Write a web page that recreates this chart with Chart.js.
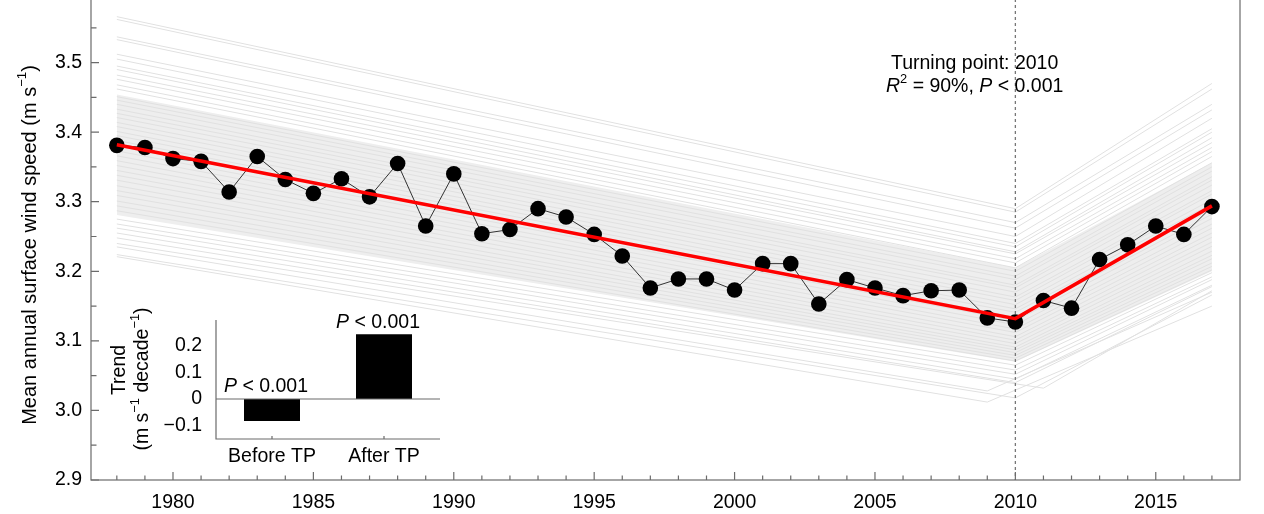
<!DOCTYPE html>
<html lang="en">
<head>
<meta charset="UTF-8">
<title>Mean annual surface wind speed</title>
<script src="https://cdn.jsdelivr.net/npm/chart.js@4.4.0/dist/chart.umd.min.js"></script>
<style>
    body { margin: 0; width: 1264px; height: 514px; overflow: hidden; background: #fff; position: relative; }
    #mainBox { position: absolute; left: 0; top: -30px; width: 1264px; height: 544px; }
    #insetBox { position: absolute; left: 100px; top: 290px; width: 350px; height: 185px; }
</style>
</head>
<body>
<div id="mainBox"><canvas id="mainChart"></canvas></div>
<div id="insetBox"><canvas id="insetChart"></canvas></div>
<script>
    // observed mean annual wind speed
    var years = [1978, 1979, 1980, 1981, 1982, 1983, 1984, 1985, 1986, 1987, 1988, 1989, 1990, 1991, 1992, 1993, 1994, 1995, 1996, 1997,
        1998, 1999, 2000, 2001, 2002, 2003, 2004, 2005, 2006, 2007, 2008, 2009, 2010, 2011, 2012, 2013, 2014, 2015, 2016, 2017]
    var windSpeed = [3.381, 3.378, 3.362, 3.358, 3.314, 3.365, 3.332, 3.312, 3.333, 3.307, 3.355, 3.265, 3.340, 3.254, 3.260, 3.290, 3.278, 3.253, 3.222, 3.176,
        3.189, 3.189, 3.173, 3.211, 3.211, 3.153, 3.188, 3.176, 3.165, 3.172, 3.173, 3.133, 3.127, 3.158, 3.147, 3.217, 3.238, 3.265, 3.253, 3.293]

    // piecewise fit
    var trendYears = [1978, 2010, 2017]
    var trendValues = [3.382, 3.132, 3.294]

    // grey ensemble fits: value at start, at turning point, at end
    var ensStart = [3.566, 3.562, 3.537, 3.533, 3.512, 3.505, 3.495, 3.490, 3.482, 3.476, 3.468, 3.462,
        3.451, 3.446, 3.440, 3.433, 3.427, 3.421, 3.414, 3.408, 3.401, 3.395, 3.388, 3.380, 3.373, 3.366,
        3.359, 3.352, 3.345, 3.338, 3.331, 3.323, 3.316, 3.309, 3.301, 3.294, 3.287,
        3.275, 3.268, 3.262, 3.255, 3.248, 3.240, 3.235, 3.224, 3.221]
    var ensTurn = [3.290, 3.285, 3.270, 3.262, 3.250, 3.240, 3.235, 3.228, 3.225, 3.218, 3.212, 3.205,
        3.200, 3.193, 3.188, 3.180, 3.176, 3.170, 3.163, 3.158, 3.152, 3.146, 3.141, 3.134, 3.129, 3.123,
        3.117, 3.112, 3.106, 3.101, 3.096, 3.091, 3.087, 3.083, 3.079, 3.075, 3.071,
        3.065, 3.058, 3.052, 3.045, 3.040, 3.032, 3.028, 3.018, 3.012]
    var ensEnd = [3.470, 3.462, 3.440, 3.432, 3.420, 3.405, 3.400, 3.392, 3.385, 3.378, 3.372, 3.365,
        3.356, 3.350, 3.344, 3.336, 3.331, 3.324, 3.316, 3.311, 3.303, 3.297, 3.290, 3.282, 3.276, 3.268,
        3.262, 3.255, 3.249, 3.242, 3.236, 3.229, 3.223, 3.218, 3.212, 3.207, 3.202,
        3.198, 3.192, 3.188, 3.180, 3.178, 3.172, 3.170, 3.166, 3.150]
    var ensTurnYear = [2010, 2010, 2010, 2010, 2010, 2010, 2010, 2010, 2010, 2010, 2010, 2010,
        2010, 2010, 2010, 2010, 2010, 2010, 2010, 2010, 2010, 2010, 2010, 2010, 2010, 2010,
        2010, 2010, 2010, 2010, 2010, 2010, 2010, 2010, 2010, 2010, 2010,
        2010, 2010, 2010, 2010, 2010, 2011, 2009, 2010, 2009]
    // dense core of the ensemble
    var bandTop = [3.454, 3.205, 3.356]
    var bandBottom = [3.281, 3.070, 3.200]

    var yTicks = [2.9, 3.0, 3.1, 3.2, 3.3, 3.4, 3.5, 3.6]
    var xTicks = [1980, 1985, 1990, 1995, 2000, 2005, 2010, 2015]
    var turningYear = 2010

    // inset
    var insetLabels = ['Before TP', 'After TP']
    var insetTrend = [-0.083, 0.243]
    var insetTicks = [-0.1, 0, 0.1, 0.2]

    var FONT = "'Liberation Sans', Arial, Helvetica, sans-serif"
    var FS = 19.5
    Chart.defaults.font.family = FONT
    Chart.defaults.color = '#000'

    function pts(xs, ys) {
        return xs.map(function (x, i) { return { x: x, y: ys[i] } })
    }

    // text with italic / superscript parts, centred on x,y
    function richText(ctx, parts, x, y, size) {
        var w = 0
        parts.forEach(function (p) {
            p.font = (p[1] && p[1].indexOf('i') >= 0 ? 'italic ' : '') + (p[1] && p[1].indexOf('s') >= 0 ? size * 0.66 : size) + 'px ' + FONT
            ctx.font = p.font
            p.w = ctx.measureText(p[0]).width
            w += p.w
        })
        var cx = x - w / 2
        ctx.textAlign = 'left'
        ctx.textBaseline = 'middle'
        ctx.fillStyle = '#000'
        parts.forEach(function (p) {
            ctx.font = p.font
            var dy = (p[1] && p[1].indexOf('s') >= 0) ? -size * 0.4 : 0
            ctx.fillText(p[0], cx, y + dy)
            cx += p.w
        })
    }

    var datasets = []
    datasets.push({ label: 'bandBottom', data: pts(trendYears, bandBottom), borderWidth: 0, pointRadius: 0, fill: false, order: 30 })
    datasets.push({ label: 'bandTop', data: pts(trendYears, bandTop), borderWidth: 0, pointRadius: 0, fill: 0, backgroundColor: '#eeeeee', order: 30 })
    for (var i = 0; i < ensStart.length; i++) {
        datasets.push({
            label: 'ens',
            data: pts([1978, ensTurnYear[i], 2017], [ensStart[i], ensTurn[i], ensEnd[i]]),
            borderColor: '#e1e1e1', borderWidth: 1, pointRadius: 0, fill: false, order: 20
        })
    }
    datasets.push({
        label: 'Observed', data: pts(years, windSpeed), borderColor: '#333', borderWidth: 1,
        pointRadius: 7.8, pointBackgroundColor: '#000', pointBorderWidth: 0, fill: false, order: 2
    })
    datasets.push({
        label: 'Trend', data: pts(trendYears, trendValues), borderColor: '#ff0000', borderWidth: 3.5,
        pointRadius: 0, fill: false, order: 1
    })

    var mainDecor = {
        id: 'mainDecor',
        beforeDatasetDraw: function (chart, args) {
            if (chart.data.datasets[args.index].label !== 'Observed') return
            var ctx = chart.ctx, a = chart.chartArea
            var x = chart.scales.x.getPixelForValue(turningYear)
            ctx.save()
            ctx.strokeStyle = '#777'
            ctx.lineWidth = 1.3
            ctx.setLineDash([3, 3])
            ctx.beginPath()
            ctx.moveTo(x, a.top)
            ctx.lineTo(x, a.bottom)
            ctx.stroke()
            ctx.restore()
        },
        afterDraw: function (chart) {
            var ctx = chart.ctx, a = chart.chartArea
            var xs = chart.scales.x, ys = chart.scales.y
            ctx.save()
            ctx.strokeStyle = '#6b6b6b'
            ctx.lineWidth = 1.2
            ctx.strokeRect(a.left, a.top, a.right - a.left, a.bottom - a.top)
            ctx.beginPath()
            for (var yr = 1978; yr <= 2017; yr++) {
                var px = xs.getPixelForValue(yr)
                var len = yr % 5 === 0 ? 8 : 4.5
                ctx.moveTo(px, a.bottom)
                ctx.lineTo(px, a.bottom - len)
            }
            for (var k = 0; k <= 14; k++) {
                var v = 2.9 + k * 0.05
                var py = ys.getPixelForValue(v)
                ctx.moveTo(a.left, py)
                ctx.lineTo(a.left + (k % 2 === 0 ? 8 : 5.5), py)
            }
            ctx.stroke()

            // annotation (canvas is shifted 30px up)
            var tx = xs.getPixelForValue(2008.55)
            richText(ctx, [['Turning point: 2010']], tx, 94, FS)
            richText(ctx, [['R', 'i'], ['2', 's'], [' = 90%, '], ['P', 'i'], [' < 0.001']], tx, 117, FS)

            // y title
            ctx.translate(30, 275)
            ctx.rotate(-Math.PI / 2)
            richText(ctx, [['Mean annual surface wind speed (m s'], ['\u22121', 's'], [')']], 0, 0, 20)
            ctx.restore()
        }
    }

    new Chart(document.getElementById('mainChart'), {
        type: 'line',
        data: { datasets: datasets },
        options: {
            responsive: true,
            maintainAspectRatio: false,
            animation: false,
            events: [],
            devicePixelRatio: 1,
            layout: { autoPadding: false, padding: { top: 23, right: 24, left: 0, bottom: 0 } },
            plugins: { legend: { display: false }, tooltip: { enabled: false } },
            scales: {
                x: {
                    type: 'linear', min: 1977.08, max: 2018,
                    grid: { display: false, drawTicks: false },
                    border: { display: false },
                    afterBuildTicks: function (s) { s.ticks = xTicks.map(function (v) { return { value: v } }) },
                    afterFit: function (s) { s.height = 34 },
                    ticks: { padding: 11, font: { size: FS }, maxRotation: 0, autoSkip: false, callback: function (v) { return String(v) } }
                },
                y: {
                    min: 2.9, max: 3.6,
                    grid: { display: false, drawTicks: false },
                    border: { display: false },
                    afterBuildTicks: function (s) { s.ticks = yTicks.map(function (v) { return { value: v } }) },
                    afterFit: function (s) { s.width = 91 },
                    ticks: { padding: 9, font: { size: FS }, callback: function (v) { return v.toFixed(1) } }
                }
            }
        },
        plugins: [mainDecor]
    })

    var insetDecor = {
        id: 'insetDecor',
        afterDraw: function (chart) {
            var ctx = chart.ctx, a = chart.chartArea
            var xs = chart.scales.x, ys = chart.scales.y
            var y0 = ys.getPixelForValue(0)
            ctx.save()
            ctx.strokeStyle = '#6b6b6b'
            ctx.lineWidth = 1.2
            ctx.beginPath()
            ctx.moveTo(a.left, a.top)
            ctx.lineTo(a.left, a.bottom)
            ctx.lineTo(a.right, a.bottom)
            ctx.moveTo(a.left, y0)
            ctx.lineTo(a.right, y0)
            for (var i = 0; i < insetLabels.length; i++) {
                var px = xs.getPixelForValue(i)
                ctx.moveTo(px, a.bottom)
                ctx.lineTo(px, a.bottom - 3)
            }
            ctx.stroke()
            var p1 = ys.getPixelForValue(insetTrend[1])
            richText(ctx, [['P', 'i'], [' < 0.001']], xs.getPixelForValue(0) - 6, y0 - 12, FS)
            richText(ctx, [['P', 'i'], [' < 0.001']], xs.getPixelForValue(1) - 6, p1 - 12, FS)
            ctx.translate(20, 80)
            ctx.rotate(-Math.PI / 2)
            richText(ctx, [['Trend']], 0, 0, FS)
            ctx.restore()
            ctx.save()
            ctx.translate(43, 89)
            ctx.rotate(-Math.PI / 2)
            richText(ctx, [['(m s'], ['\u22121', 's'], [' decade'], ['\u22121', 's'], [')']], 0, 0, FS)
            ctx.restore()
        }
    }

    new Chart(document.getElementById('insetChart'), {
        type: 'bar',
        data: {
            labels: insetLabels,
            datasets: [{ data: insetTrend, backgroundColor: '#000', borderWidth: 0, barPercentage: 0.5, categoryPercentage: 1 }]
        },
        options: {
            responsive: true,
            maintainAspectRatio: false,
            animation: false,
            events: [],
            devicePixelRatio: 1,
            layout: { autoPadding: false, padding: { top: 30, right: 10, left: 0, bottom: 0 } },
            plugins: { legend: { display: false }, tooltip: { enabled: false } },
            scales: {
                x: {
                    grid: { display: false, drawTicks: false },
                    border: { display: false },
                    afterFit: function (s) { s.height = 36 },
                    ticks: { padding: 6, font: { size: FS }, maxRotation: 0 }
                },
                y: {
                    min: -0.15, max: 0.296,
                    grid: { display: false, drawTicks: false },
                    border: { display: false },
                    afterBuildTicks: function (s) { s.ticks = insetTicks.map(function (v) { return { value: v } }) },
                    afterFit: function (s) { s.width = 116 },
                    ticks: {
                        padding: 14, font: { size: FS },
                        callback: function (v) { return v === 0 ? '0' : (v < 0 ? '\u2212' : '') + Math.abs(v).toFixed(1) }
                    }
                }
            }
        },
        plugins: [insetDecor]
    })
</script>
</body>
</html>
